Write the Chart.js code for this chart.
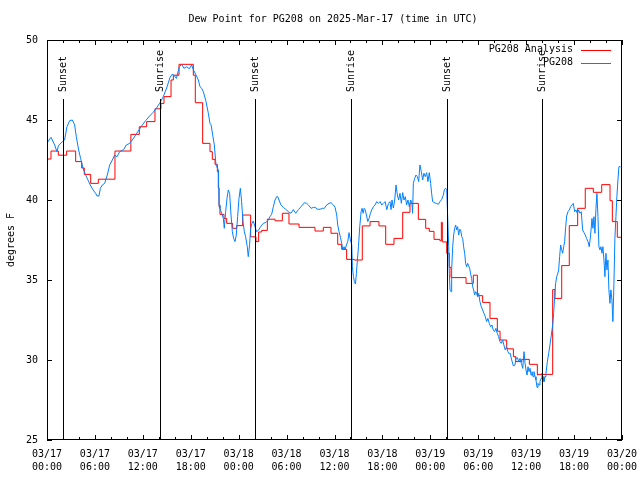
<!DOCTYPE html>
<html><head><meta charset="utf-8">
<script src="https://cdn.jsdelivr.net/npm/chart.js@4.4.1/dist/chart.umd.min.js"></script>
<style>html,body{margin:0;padding:0;background:#fff}#wrap{width:640px;height:480px}</style>
</head><body><div id="wrap"><canvas id="c" width="640" height="480"></canvas></div>
<script>
const titleText = 'Dew Point for PG208 on 2025-Mar-17 (time in UTC)';
const yAxisTitle = 'degrees F';
const seriesNames = ['PG208 Analysis', 'PG208'];
const tickDates = ['03/17','03/17','03/17','03/17','03/18','03/18','03/18','03/18','03/19','03/19','03/19','03/19','03/20'];
const tickTimes = ['00:00','06:00','12:00','18:00','00:00','06:00','12:00','18:00','00:00','06:00','12:00','18:00','00:00'];
const sunEventNames = ['Sunset','Sunrise','Sunset','Sunrise','Sunset','Sunrise'];
const sunEventHours = [2.05, 14.18, 26.08, 38.1, 50.03, 62.02];

const analysisHours = [0,0.5,1.42,2.46,3.59,4.34,4.67,5.47,6.43,8.51,10.5,11.56,12.48,13.52,14.27,14.65,15.53,15.82,16.53,18.32,18.57,19.49,20.41,20.7,21.04,21.33,21.45,21.55,21.66,22.16,22.5,23.25,23.75,24.5,25.5,26.17,26.5,26.88,27.59,28.55,29.47,30.3,31.56,33.56,34.6,35.56,36.4,36.9,37.52,38.48,39.48,40.45,41.57,42.41,43.45,44.54,45.45,46.5,47.42,47.87,48.46,49.2,49.38,49.5,50.05,50.38,50.59,52.47,53.38,53.89,54.55,55.47,56.39,56.73,57.56,58.4,58.69,59.44,60.4,61.4,61.5,63.32,63.6,64.45,65.4,66.45,67.4,68.41,69.46,70.5,70.79,71.41,72];
const analysisValues = [42.56,43.06,42.8,43.06,42.4,42.0,41.6,41.04,41.3,43.06,44.1,44.58,44.9,45.7,46.04,46.46,47.5,47.8,48.48,47.8,46.08,43.54,43.02,42.54,42.23,41.77,40.75,39.58,39.1,38.85,38.54,38.23,38.4,39.06,37.7,37.4,38.0,38.1,38.8,38.7,39.17,38.5,38.29,38.06,38.29,37.92,37.23,36.92,36.29,36.25,38.38,38.65,38.38,37.23,37.6,39.23,39.79,38.79,38.23,38.04,37.54,37.45,38.6,37.38,36.67,35.79,35.15,34.79,35.3,34.02,33.6,32.6,31.8,31.25,30.7,30.21,29.9,30.04,29.73,29.06,29.1,34.4,33.85,35.9,38.4,39.48,40.73,40.48,40.96,39.96,38.65,37.67,37.67];

const stationHours = [0,0.25,0.5,0.96,1.25,1.42,1.92,2.2,2.5,2.84,3.17,3.46,3.67,3.96,4.21,4.51,4.84,5.13,5.42,5.76,6.09,6.26,6.51,6.68,6.93,7.22,7.55,7.85,8.18,8.47,8.76,9.1,9.6,9.93,10.35,10.68,11.1,11.52,11.94,12.35,12.85,13.27,13.69,14.1,14.55,14.98,15.4,15.65,15.9,16.2,16.57,16.86,17.15,17.49,17.82,18.11,18.32,18.66,18.95,19.16,19.37,19.58,19.91,20.2,20.41,20.54,20.75,20.95,21.16,21.33,21.46,21.54,21.66,21.87,22.08,22.2,22.37,22.54,22.7,22.87,23.04,23.21,23.37,23.54,23.7,23.87,24.04,24.21,24.37,24.54,24.71,24.87,25.08,25.2,25.37,25.5,25.66,25.83,26.04,26.25,26.46,26.75,27.08,27.42,27.71,27.92,28.13,28.34,28.55,28.76,28.89,29.05,29.3,29.6,29.89,30.22,30.55,30.85,31.14,31.48,31.81,32.23,32.52,32.73,33.07,33.36,33.56,33.9,34.19,34.48,34.73,35.02,35.32,35.57,35.86,36.07,36.28,36.4,36.57,36.74,36.9,37.03,37.2,37.32,37.49,37.66,37.82,37.99,38.16,38.24,38.37,38.49,38.62,38.74,38.87,39.0,39.16,39.33,39.45,39.58,39.71,39.83,40.0,40.17,40.33,40.5,40.67,40.88,41.08,41.29,41.5,41.71,41.92,42.13,42.34,42.55,42.76,42.95,43.08,43.2,43.37,43.54,43.7,43.87,44.03,44.2,44.37,44.54,44.7,44.87,45.03,45.2,45.37,45.54,45.7,45.78,45.87,46.04,46.2,46.37,46.54,46.7,46.87,47.04,47.2,47.37,47.54,47.7,47.87,48.04,48.16,48.29,48.46,48.62,48.79,49.0,49.21,49.42,49.63,49.75,49.88,50.05,50.17,50.3,50.38,50.47,50.59,50.67,50.8,50.92,51.05,51.17,51.3,51.42,51.55,51.67,51.8,51.92,52.05,52.17,52.3,52.42,52.55,52.67,52.8,52.92,53.05,53.17,53.3,53.42,53.55,53.67,53.8,53.92,54.05,54.21,54.38,54.55,54.71,54.88,55.05,55.21,55.38,55.55,55.71,55.88,56.05,56.21,56.38,56.55,56.71,56.88,57.05,57.21,57.38,57.55,57.71,57.88,58.0,58.19,58.4,58.6,58.73,58.9,59.07,59.23,59.4,59.57,59.73,59.86,59.98,60.11,60.23,60.36,60.48,60.61,60.73,60.86,60.98,61.11,61.23,61.36,61.48,61.61,61.73,61.86,61.98,62.11,62.23,62.36,62.48,62.65,62.82,62.98,63.15,63.32,63.44,63.57,63.69,63.82,63.94,64.07,64.19,64.32,64.45,64.57,64.7,64.82,64.95,65.07,65.24,65.4,65.57,65.74,65.9,66.07,66.24,66.4,66.57,66.74,66.9,67.07,67.24,67.4,67.57,67.74,67.9,68.07,68.24,68.36,68.49,68.61,68.74,68.86,68.99,69.11,69.24,69.36,69.49,69.61,69.74,69.86,69.99,70.11,70.24,70.36,70.49,70.61,70.74,70.86,70.99,71.11,71.24,71.36,71.49,71.61,71.74,71.86,72.0];
const stationValues = [43.54,43.75,43.92,43.44,43.02,43.38,43.65,43.75,44.58,44.96,45.0,44.69,43.96,43.13,42.6,41.98,41.56,41.25,40.94,40.63,40.42,40.25,40.25,40.73,40.94,41.04,41.56,42.19,42.5,42.81,42.7,43.02,43.15,43.44,43.54,43.75,44.06,44.38,44.69,44.96,45.25,45.46,45.73,46.04,46.45,47.0,47.65,47.85,47.8,47.6,48.33,48.48,48.23,48.33,48.2,48.44,48.15,47.81,47.5,47.08,46.98,46.77,46.15,45.42,44.79,44.7,44.06,43.44,42.19,42.0,41.88,39.69,39.48,39.17,38.85,38.23,39.27,40.1,40.63,40.4,39.06,38.02,37.6,37.4,37.81,38.96,40.1,40.73,39.9,38.65,38.02,37.7,37.08,36.46,37.2,38.23,38.54,38.69,38.33,38.02,38.1,38.33,38.54,38.6,38.75,38.96,39.1,39.58,40.0,40.21,40.21,40.0,39.69,39.54,39.42,39.27,39.17,39.4,39.17,39.4,39.58,39.83,39.79,39.69,39.48,39.54,39.54,39.42,39.42,39.48,39.48,39.69,39.79,39.83,39.69,39.54,39.06,38.44,38.02,37.67,37.29,36.88,37.08,36.88,37.19,37.4,37.96,37.5,37.19,35.83,35.21,34.9,34.75,35.4,36.25,37.08,38.33,39.27,39.48,39.17,39.48,39.4,39.06,38.65,38.85,39.17,39.4,39.58,39.69,39.9,39.79,39.9,39.69,39.79,39.9,39.4,39.79,39.9,39.4,40.0,39.5,40.0,40.94,40.31,40.0,40.42,39.79,40.46,40.0,40.21,39.69,40.0,39.58,40.0,39.79,39.17,41.04,41.35,41.56,41.46,41.15,42.19,41.77,41.25,41.67,41.46,41.71,41.15,41.71,41.04,40.42,39.9,39.85,39.8,39.79,39.73,39.9,40.04,40.31,40.63,40.73,40.67,38.96,37.08,35.42,34.38,34.27,35.63,37.08,37.81,38.23,38.44,38.13,38.33,37.81,38.17,38.13,37.73,37.6,37.08,36.67,36.04,35.83,36.04,35.88,35.73,35.38,35.1,34.58,34.38,34.06,34.27,34.17,33.96,34.17,33.65,33.33,33.13,32.92,32.71,32.4,32.6,32.29,32.08,32.19,31.88,31.77,31.98,31.67,31.46,31.15,31.04,31.25,30.94,30.63,30.83,30.52,30.38,30.42,30.0,29.63,29.69,30.1,30.15,29.9,30.1,29.79,29.48,30.52,29.79,29.38,29.06,29.58,29.27,29.48,29.06,29.27,28.96,29.27,28.96,28.75,28.29,28.54,28.44,28.65,28.85,29.17,28.96,28.65,28.96,29.17,29.9,30.42,30.94,31.56,32.19,32.92,33.96,34.79,35.21,35.38,35.63,36.46,37.19,36.88,36.67,37.08,37.4,38.33,39.0,39.27,39.38,39.58,39.69,39.79,39.27,39.38,39.17,39.38,39.17,39.27,38.13,37.96,37.81,37.6,37.4,37.08,37.81,38.85,38.23,38.96,37.92,39.48,40.42,38.96,37.08,36.88,37.08,36.67,37.08,36.25,35.21,36.67,35.63,36.25,34.38,33.54,34.38,33.75,32.4,34.79,37.6,38.96,40.21,41.25,42.08,42.1,42.04,42.1];

const RED = '#ff0000';
const BLUE = '#0080ff';
const FONT_FAMILY = '"DejaVu Sans Mono", monospace';
const FONT_SIZE = 10;
const FONT = FONT_SIZE + 'px ' + FONT_FAMILY;

const analysisData = analysisHours.map((h, i) => ({x: h, y: analysisValues[i]}));
const stationData = stationHours.map((h, i) => ({x: h, y: stationValues[i]}));

const decorPlugin = {
  id: 'decor',
  afterDatasetsDraw(chart) {
    const ctx = chart.ctx;
    const a = chart.chartArea;
    const xs = chart.scales.x, ys = chart.scales.y;
    ctx.save();
    ctx.strokeStyle = '#000';
    ctx.lineWidth = 1;
    ctx.font = FONT;
    ctx.fillStyle = '#000';
    sunEventHours.forEach((h, i) => {
      const px = Math.round(xs.getPixelForValue(h)) + 0.5;
      ctx.beginPath();
      ctx.moveTo(px, 99);
      ctx.lineTo(px, a.bottom);
      ctx.stroke();
      ctx.save();
      ctx.translate(px, 92);
      ctx.rotate(-Math.PI / 2);
      ctx.textAlign = 'left';
      ctx.textBaseline = 'middle';
      ctx.fillText(sunEventNames[i], 0, 0);
      ctx.restore();
    });
    ctx.strokeRect(a.left + 0.5, a.top + 0.5, a.right - a.left - 1, a.bottom - a.top - 1);
    ctx.beginPath();
    for (let h = 0; h <= 72; h += 2) {
      const px = Math.round(xs.getPixelForValue(h)) + 0.5;
      const len = (h % 6 === 0) ? 5 : 3;
      ctx.moveTo(px, a.bottom); ctx.lineTo(px, a.bottom - len);
      ctx.moveTo(px, a.top); ctx.lineTo(px, a.top + len);
    }
    for (let v = 25; v <= 50; v += 5) {
      const py = Math.round(ys.getPixelForValue(v)) + 0.5;
      ctx.moveTo(a.left, py); ctx.lineTo(a.left + 5, py);
      ctx.moveTo(a.right, py); ctx.lineTo(a.right - 5, py);
    }
    ctx.stroke();
    ctx.textAlign = 'center';
    ctx.textBaseline = 'middle';
    ctx.fillText(titleText, 333, 19);
    ctx.save();
    ctx.translate(11, 240);
    ctx.rotate(-Math.PI / 2);
    ctx.fillText(yAxisTitle, 0, 0);
    ctx.restore();
    ctx.textAlign = 'right';
    const colors = [RED, BLUE];
    seriesNames.forEach((name, i) => {
      const ty = 49.5 + i * 13;
      ctx.fillStyle = '#000';
      ctx.fillText(name, 573, ty);
      ctx.strokeStyle = colors[i];
      ctx.beginPath();
      ctx.moveTo(581, Math.round(ty) + 0.5);
      ctx.lineTo(611, Math.round(ty) + 0.5);
      ctx.stroke();
    });
    ctx.restore();
  }
};

new Chart(document.getElementById('c'), {
  type: 'line',
  data: {
    datasets: [
      {label: seriesNames[0], data: analysisData, borderColor: RED, borderWidth: 1, pointRadius: 0, stepped: true, fill: false, order: 2},
      {label: seriesNames[1], data: stationData, borderColor: BLUE, borderWidth: 1, pointRadius: 0, tension: 0, fill: false, order: 1}
    ]
  },
  options: {
    responsive: false,
    animation: false,
    events: [],
    layout: {padding: {top: 40, right: 18, left: 0, bottom: 0}},
    plugins: {legend: {display: false}, tooltip: {enabled: false}, title: {display: false}},
    scales: {
      x: {
        type: 'linear', min: 0, max: 72,
        grid: {display: false, drawTicks: false}, border: {display: false},
        afterFit(scale) { scale.height = 40; scale.paddingLeft = 0; scale.paddingRight = 0; },
        ticks: {
          stepSize: 6, autoSkip: false, maxRotation: 0, minRotation: 0, padding: 8,
          color: '#000', font: {family: FONT_FAMILY, size: FONT_SIZE, lineHeight: '13px'},
          callback(v) { const i = Math.round(v / 6); return [tickDates[i], tickTimes[i]]; }
        }
      },
      y: {
        type: 'linear', min: 25, max: 50,
        grid: {display: false, drawTicks: false}, border: {display: false},
        afterFit(scale) { scale.width = 47; scale.paddingTop = 0; scale.paddingBottom = 0; },
        ticks: {
          stepSize: 5, padding: 9, color: '#000',
          font: {family: FONT_FAMILY, size: FONT_SIZE}
        }
      }
    }
  },
  plugins: [decorPlugin]
});
</script>
</body></html>
